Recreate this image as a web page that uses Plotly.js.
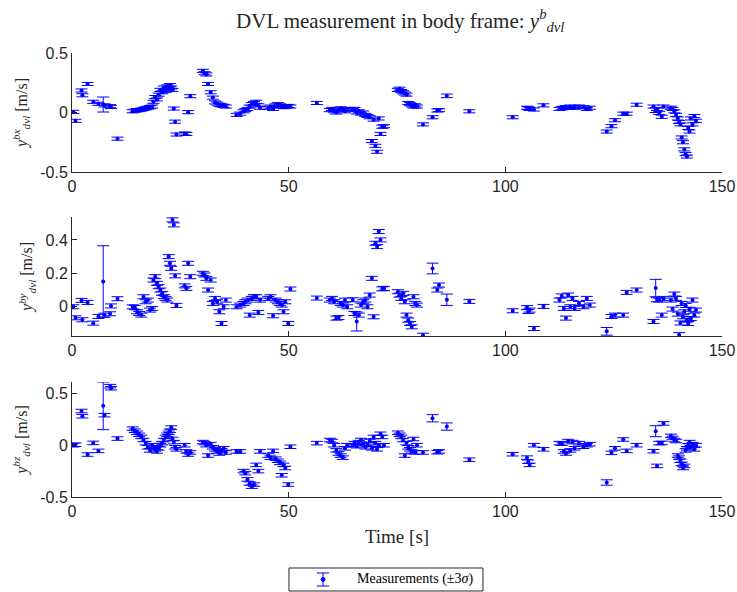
<!DOCTYPE html>
<html><head><meta charset="utf-8">
<script src="https://cdn.plot.ly/plotly-3.0.1.min.js"></script>
<style>body{margin:0;background:#fff}#plot{width:737px;height:592px}</style>
</head><body><div id="plot"></div>
<script>
// Measurement times [s]
const time = [
 0.3, 0.8, 2.2, 2.4, 3.6, 4.9, 6.1, 7.2, 7.5, 8.8, 9.0, 10.5,
 14.0, 14.5, 15.0, 15.5, 16.0, 16.5, 17.0, 17.5, 18.0, 18.5,
 18.8, 19.2, 19.6, 20.0, 20.4, 20.8, 21.2, 21.6, 22.0, 22.3, 22.6, 22.9, 23.2, 23.5, 23.8, 24.1,
 26.0, 26.4, 26.8, 27.3,
 30.2, 30.6, 31.0, 31.4, 32.0, 32.5, 33.0, 33.5, 34.0, 34.5, 35.0, 35.5,
 38.0, 38.8, 39.6, 40.0, 40.5, 41.0, 41.5, 42.0, 42.5, 43.0, 43.4,
 45.3, 45.8, 46.4, 47.0, 47.5, 48.0, 48.4, 48.8, 49.2, 49.9, 50.4,
 56.5,
 59.5, 60.0, 60.5, 61.0, 61.5, 62.0, 62.5, 63.0, 63.5,
 64.8, 65.2, 65.7, 66.2, 66.7, 67.2, 67.7, 68.2, 68.7, 69.2, 69.6, 70.0, 70.4, 70.8, 71.2, 71.6, 72.0,
 75.2, 75.6, 76.0, 76.4, 76.8, 77.2, 77.6, 78.0, 78.4, 78.8, 79.2, 79.6,
 81.0, 83.2, 84.3, 84.7, 86.5, 91.7, 101.7, 105.0, 105.3, 105.6, 106.6, 108.8,
 112.5, 113.0, 113.5, 114.0, 114.5, 115.0, 115.5, 116.0, 117.0, 118.0, 118.8, 119.5,
 123.4, 124.5, 125.3, 127.2, 128.0, 130.3,
 134.2, 134.7, 135.0, 135.5, 136.1, 136.5,
 138.2, 138.6, 139.0, 139.4, 139.8, 140.1, 140.4, 140.7, 141.0, 141.3, 141.6, 141.9, 142.2, 142.5, 142.8, 143.2, 143.6, 144.0
];
// y_dvl^bx [m/s]
const velX = [
 0.005, -0.07, 0.185, 0.145, 0.24, 0.09, 0.073, 0.067, 0.06, 0.053, 0.047, -0.22,
 0.01, 0.015, 0.02, 0.02, 0.025, 0.03, 0.035, 0.04, 0.045, 0.05,
 0.09, 0.13, 0.11, 0.15, 0.19, 0.17, 0.21, 0.18, 0.22, 0.2, 0.23, 0.21, 0.19, 0.033, -0.077, -0.185,
 -0.177, -0.18, 0.003, 0.137,
 0.35, 0.33, 0.32, 0.24, 0.17, 0.125, 0.085, 0.075, 0.065, 0.06, 0.055, 0.05,
 -0.02, -0.01, 0.01, 0.02, 0.03, 0.05, 0.07, 0.08, 0.09, 0.06, 0.04,
 0.04, 0.05, 0.03, 0.06, 0.07, 0.06, 0.05, 0.045, 0.05, 0.055, 0.05,
 0.08,
 0.02, 0.03, 0.01, 0.0, 0.025, 0.035, 0.02, 0.01, 0.03,
 0.02, 0.03, 0.0, 0.01, -0.01, 0.0, -0.02, -0.03, -0.04, -0.24, -0.06, -0.28, -0.33, -0.05, -0.18, -0.12, -0.115,
 0.19, 0.2, 0.18, 0.17, 0.16, 0.15, 0.08, 0.07, 0.06, 0.05, 0.06, 0.05,
 -0.1, -0.04, 0.017, 0.02, 0.14, 0.01, -0.04, 0.04, 0.035, 0.03, 0.025, 0.06,
 0.03, 0.035, 0.04, 0.045, 0.04, 0.05, 0.045, 0.04, 0.05, 0.045, 0.03, 0.04,
 -0.16, -0.115, -0.065, -0.01, -0.01, 0.065,
 0.05, 0.02, 0.03, -0.003, -0.036, 0.05,
 0.04, 0.03, 0.01, -0.02, -0.05, -0.08, -0.1, -0.21, -0.25, -0.31, -0.35, -0.37, -0.13, -0.16, -0.05, -0.1, -0.03, -0.07
];
// y_dvl^by [m/s]
const velY = [
 0.0, -0.066, 0.038, -0.078, 0.026, -0.098, -0.058, 0.151, -0.05, -0.042, 0.005, 0.048,
 0.0, -0.005, -0.03, -0.04, -0.05, 0.06, 0.03, 0.04, -0.02, -0.01,
 0.16, 0.18, 0.14, 0.12, 0.1, 0.08, 0.06, 0.05, 0.04, 0.3, 0.26, 0.23, 0.52, 0.49, 0.185, 0.008,
 0.125, 0.11, 0.26, 0.18,
 0.2, 0.19, 0.17, 0.1, 0.16, 0.02, 0.05, 0.03, -0.03, -0.1, 0.0, 0.04,
 0.0, 0.01, 0.02, 0.03, 0.04, -0.05, 0.05, 0.06, 0.06, -0.034, 0.04,
 0.05, 0.06, -0.054, 0.04, 0.03, 0.02, 0.01, -0.03, 0.03, -0.1, 0.106,
 0.052,
 0.04, 0.05, 0.03, -0.068, -0.065, 0.02, 0.01, 0.04, 0.0,
 0.042, -0.04, -0.088, -0.05, 0.01, 0.03, 0.04, 0.0, 0.07, 0.17, -0.06, 0.38, 0.36, 0.45, 0.4, 0.107, 0.11,
 0.09, 0.07, 0.05, 0.08, 0.03, -0.05, -0.08, -0.1, -0.12, 0.06, 0.02, 0.01,
 -0.17, 0.229, 0.1, 0.13, 0.042, 0.032, -0.024, -0.005, -0.028, -0.02, -0.13, 0.002,
 0.04, 0.065, -0.01, -0.068, 0.07, 0.0, 0.05, -0.01, 0.02, 0.0, 0.05, 0.01,
 -0.147, -0.058, -0.05, -0.05, 0.086, 0.1,
 -0.088, 0.112, 0.042, 0.04, -0.05, 0.05,
 0.04, -0.014, 0.076, 0.05, -0.044, -0.167, -0.097, 0.02, -0.06, -0.03, 0.008, -0.08, -0.1, -0.015, -0.07, 0.04, -0.05, -0.02
];
// y_dvl^bz [m/s]
const velZ = [
 0.0, 0.005, 0.33, 0.28, -0.09, 0.022, -0.055, 0.38, 0.29, 0.57, 0.55, 0.064,
 0.16, 0.14, 0.12, 0.1, 0.08, 0.05, 0.02, -0.02, -0.05, 0.0,
 -0.02, -0.04, -0.06, -0.03, 0.0, 0.02, 0.05, 0.08, 0.1, 0.12, 0.14, 0.17, 0.06, 0.03, -0.02, -0.04,
 0.0, -0.06, -0.09, -0.07,
 0.03, 0.02, 0.0, -0.1, 0.01, -0.02, -0.04, -0.06, -0.08, -0.05, -0.03, -0.07,
 -0.06, -0.06, -0.25, -0.27, -0.33, -0.37, -0.4, -0.38, -0.19, -0.25, -0.06,
 -0.1, -0.12, -0.055, -0.13, -0.15, -0.17, -0.29, -0.19, -0.22, -0.38, -0.015,
 0.02,
 0.05, 0.04, 0.0, -0.05, -0.08, -0.1, -0.12, -0.03, 0.0,
 0.0, 0.02, -0.01, 0.03, 0.05, 0.0, -0.02, 0.01, 0.04, -0.03, 0.08, 0.02, -0.04, 0.0, 0.11, 0.08, 0.0,
 0.12, 0.1, 0.08, 0.05, -0.1, 0.02, -0.02, -0.04, -0.06, 0.06, -0.07, 0.0,
 -0.07, 0.26, -0.068, -0.06, 0.18, -0.14, -0.087, -0.12, -0.16, -0.19, 0.0, -0.04,
 0.02, 0.015, -0.06, -0.08, 0.04, -0.05, 0.03, -0.03, 0.02, -0.015, 0.0, 0.01,
 -0.36, -0.074, -0.03, 0.055, -0.055, 0.0,
 -0.058, 0.135, -0.2, 0.02, 0.022, 0.21,
 0.09, 0.07, 0.05, 0.04, -0.1, -0.12, -0.15, -0.18, -0.22, -0.2, -0.05, -0.03, 0.0, 0.03, -0.02, 0.01, -0.04, 0.0
];
// 3-sigma bounds: typical, and the wider ones
const sigma3X = 0.013, sigma3Y = 0.012, sigma3Z = 0.017;
const wideErrTime = [7.2, 65.7, 83.2, 86.5, 123.4, 134.7];
const wideErrX = [0.063, 0.013, 0.013, 0.015, 0.013, 0.02];
const wideErrY = [0.214, 0.057, 0.032, 0.034, 0.023, 0.052];
const wideErrZ = [0.23, 0.017, 0.035, 0.035, 0.026, 0.053];
const legendLabel = 'Measurements (±3<i>σ</i>)';

function errArray(def, wide) {
  return time.map(t => { const k = wideErrTime.indexOf(t); return k >= 0 ? wide[k] : def; });
}

const BLUE = '#0000ff';
function trace(y, err, xa, ya) {
  return {
    x: time, y: y, type: 'scatter', mode: 'markers', xaxis: xa, yaxis: ya,
    marker: {color: BLUE, size: 4},
    error_y: {type: 'data', array: err, visible: true, color: BLUE, thickness: 1, width: 6},
    name: legendLabel, showlegend: false
  };
}
const data = [
  trace(velX, errArray(sigma3X, wideErrX), 'x', 'y'),
  trace(velY, errArray(sigma3Y, wideErrY), 'x2', 'y2'),
  trace(velZ, errArray(sigma3Z, wideErrZ), 'x3', 'y3')
];

const AX = '#262626';
const tickFont = {family: 'Liberation Sans, Arial, sans-serif', size: 16, color: AX};
const serif = 'Liberation Serif, Times New Roman, serif';
function xax(anchor, title) {
  const a = {anchor: anchor, domain: [0, 1], range: [0, 150], tickvals: [0, 50, 100, 150],
    ticks: 'inside', ticklen: 5, tickcolor: AX, showline: true, linecolor: AX, linewidth: 1,
    showgrid: false, zeroline: false, tickfont: tickFont};
  if (title) a.title = {text: title, font: {family: serif, size: 19, color: AX}, standoff: 10};
  return a;
}
function yax(anchor, domain, range, vals, title) {
  return {anchor: anchor, domain: domain, range: range, tickvals: vals,
    ticktext: vals.map(v => String(v)),
    ticks: 'inside', ticklen: 5, tickcolor: AX, showline: true, linecolor: AX, linewidth: 1,
    showgrid: false, zeroline: false, tickfont: tickFont,
    title: {text: title, font: {family: serif, size: 16, color: AX}, standoff: 8}};
}
const yl = c => '<i>y</i><sup><i>b' + c + '</i></sup><sub><i>dvl</i></sub> [m/s]';

// hand-made legend box (paper coordinates of the bottom area)
const lx0 = 0.3338, lx1 = 0.6323, ly0 = -0.2117, ly1 = -0.1599;
const gx = 0.3862, gw = 0.0095, gy = -0.1858, gh = 0.0147;
const shapes = [
  {type: 'rect', xref: 'paper', yref: 'paper', x0: lx0, x1: lx1, y0: ly0, y1: ly1,
   line: {color: AX, width: 1}, fillcolor: '#fff'},
  {type: 'line', xref: 'paper', yref: 'paper', x0: gx, x1: gx, y0: gy - gh, y1: gy + gh, line: {color: BLUE, width: 1}},
  {type: 'line', xref: 'paper', yref: 'paper', x0: gx - gw, x1: gx + gw, y0: gy - gh, y1: gy - gh, line: {color: BLUE, width: 1}},
  {type: 'line', xref: 'paper', yref: 'paper', x0: gx - gw, x1: gx + gw, y0: gy + gh, y1: gy + gh, line: {color: BLUE, width: 1}},
  {type: 'circle', xref: 'paper', yref: 'paper', x0: gx - 0.003, x1: gx + 0.003, y0: gy - 0.0045, y1: gy + 0.0045,
   line: {color: BLUE, width: 1}, fillcolor: BLUE}
];

const layout = {
  width: 737, height: 592,
  margin: {l: 72, r: 15, t: 53, b: 95, autoexpand: false},
  paper_bgcolor: '#fff', plot_bgcolor: '#fff',
  title: {text: 'DVL measurement in body frame: <i>y</i><sup><i>b</i></sup><sub><i>dvl</i></sub>',
    x: 0.505, xref: 'paper', xanchor: 'center', y: 0.965, yref: 'container', yanchor: 'middle',
    font: {family: serif, size: 21, color: AX}},
  xaxis: xax('y'), yaxis: yax('x', [0.732, 1], [-0.5, 0.5], [-0.5, 0, 0.5], yl('x')),
  xaxis2: xax('y2'), yaxis2: yax('x2', [0.3626, 0.6306], [-0.175, 0.537], [0, 0.2, 0.4], yl('y')),
  xaxis3: xax('y3', 'Time [s]'), yaxis3: yax('x3', [0, 0.259], [-0.5, 0.61], [-0.5, 0, 0.5], yl('z')),
  showlegend: false,
  shapes: shapes,
  annotations: [{text: legendLabel, xref: 'paper', yref: 'paper', x: 0.4354, y: gy,
    xanchor: 'left', yanchor: 'middle', showarrow: false,
    font: {family: serif, size: 14, color: '#000'}}]
};
Plotly.newPlot('plot', data, layout, {displayModeBar: false, staticPlot: true});
</script></body></html>
